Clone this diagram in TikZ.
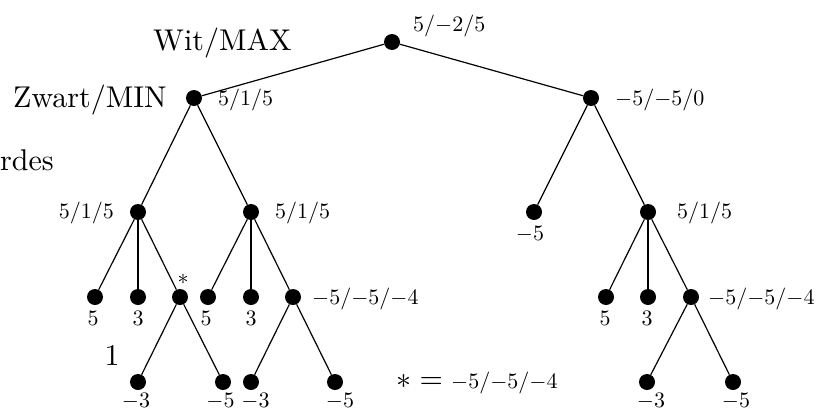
\RequirePackage{fix-cm}
\documentclass[tikz,border=0pt]{standalone}
\usepackage{fontspec}
\setmainfont{lmroman10-regular.otf}
\DeclareFontFamily{OT1}{cmr}{\hyphenchar\font45 }
\DeclareFontShape{OT1}{cmr}{m}{n}{<-> cmr10}{}
\begin{document}
\begin{tikzpicture}[x=1pt,y=-1pt,
  dot/.style={circle, fill=black, inner sep=0pt, minimum size=16pt},
  lbl/.style={inner sep=0pt, font=\fontsize{22}{26}\selectfont},
  big/.style={inner sep=0pt, font=\fontsize{30}{36}\selectfont},
  edge/.style={line width=1.2pt}]
\useasboundingbox (0,0) rectangle (830,410);
% nodes
\node[dot] (root) at (392,42) {};
\node[dot] (L) at (194,98) {};
\node[dot] (R) at (591,98) {};
\node[dot] (A) at (138,212) {};
\node[dot] (B) at (251,212) {};
\node[dot] (C) at (534,212) {};
\node[dot] (D) at (648,212) {};
\node[dot] (A1) at (95,297) {};
\node[dot] (A2) at (138,297) {};
\node[dot] (A3) at (180,297) {};
\node[dot] (B1) at (208,297) {};
\node[dot] (B2) at (251,297) {};
\node[dot] (B3) at (293,297) {};
\node[dot] (D1) at (606,297) {};
\node[dot] (D2) at (648,297) {};
\node[dot] (D3) at (691,297) {};
\node[dot] (A31) at (138,382) {};
\node[dot] (A32) at (223,382) {};
\node[dot] (B31) at (251,382) {};
\node[dot] (B32) at (335,382) {};
\node[dot] (D31) at (647,382) {};
\node[dot] (D32) at (733,382) {};
% edges
\draw[edge] (root) -- (L);
\draw[edge] (root) -- (R);
\draw[edge] (L) -- (A);
\draw[edge] (L) -- (B);
\draw[edge] (R) -- (C);
\draw[edge] (R) -- (D);
\draw[edge] (A) -- (A1);
\draw[edge] (A) -- (A2);
\draw[edge] (A) -- (A3);
\draw[edge] (B) -- (B1);
\draw[edge] (B) -- (B2);
\draw[edge] (B) -- (B3);
\draw[edge] (D) -- (D1);
\draw[edge] (D) -- (D2);
\draw[edge] (D) -- (D3);
\draw[edge] (A3) -- (A31);
\draw[edge] (A3) -- (A32);
\draw[edge] (B3) -- (B31);
\draw[edge] (B3) -- (B32);
\draw[edge] (D3) -- (D31);
\draw[edge] (D3) -- (D32);
% value labels
\node[lbl, anchor=base west] (lroot) at (413,31) {$5/{-2}/5$};
\node[lbl, anchor=base west] (lL) at (218,105) {$5/1/5$};
\node[lbl, anchor=base west] (lR) at (615,105) {${-5}/{-5}/0$};
\node[lbl, anchor=base east] (lA) at (114,218) {$5/1/5$};
\node[lbl, anchor=base west] (lB) at (275,218) {$5/1/5$};
\node[lbl, anchor=base] (lC) at (530,240) {$-5$};
\node[lbl, anchor=base west] (lD) at (677,218) {$5/1/5$};
\node[lbl, anchor=base] (lA1) at (93,325) {$5$};
\node[lbl, anchor=base] (lA2) at (138,325) {$3$};
\node[lbl] (lA3) at (183,279) {$\ast$};
\node[lbl, anchor=base] (lB1) at (206,325) {$5$};
\node[lbl, anchor=base] (lB2) at (251,325) {$3$};
\node[lbl, anchor=base west] (lB3) at (312,304) {${-5}/{-5}/{-4}$};
\node[lbl, anchor=base] (lD1) at (605,325) {$5$};
\node[lbl, anchor=base] (lD2) at (647,325) {$3$};
\node[lbl, anchor=base west] (lD3) at (708,304) {${-5}/{-5}/{-4}$};
\node[lbl, anchor=base] (lA31) at (136,407) {$-3$};
\node[lbl, anchor=base] (lA32) at (220.5,407) {$-5$};
\node[lbl, anchor=base] (lB31) at (255.5,407) {$-3$};
\node[lbl, anchor=base] (lB32) at (340,407) {$-5$};
\node[lbl, anchor=base] (lD31) at (651,407) {$-3$};
\node[lbl, anchor=base] (lD32) at (736,407) {$-5$};
% big texts
\node[big, anchor=base west] (wit) at (153,50) {Wit/MAX};
\node[big, anchor=base west] (zwart) at (13,107) {Zwart/MIN};
\node[big, anchor=base west] (rdes) at (0,170) {rdes};
\node[big, anchor=base] (one) at (112,365) {1};
\node[inner sep=0pt, anchor=base west] (legend) at (396,388)
  {{\fontsize{30}{36}\selectfont$\ast={}$}{\fontsize{22}{26}\selectfont$-5/{-5}/{-4}$}};
\end{tikzpicture}
\end{document}
